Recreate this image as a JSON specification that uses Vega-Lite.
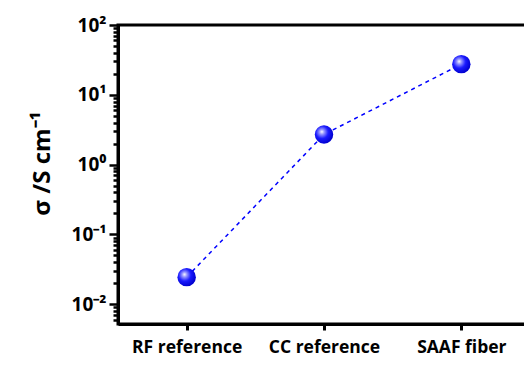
{
  "$schema": "https://vega.github.io/schema/vega-lite/v6.json",
  "width": 412,
  "height": 299,
  "autosize": {"type": "none"},
  "padding": {"left": 118, "top": 25, "right": 0, "bottom": 43},
  "background": "white",
  "config": {
    "view": {"stroke": "black", "strokeWidth": 3},
    "font": "Open Sans"
  },
  "data": {
    "values": [
      {"sample": "RF reference", "sigma": 0.0244},
      {"sample": "CC reference", "sigma": 2.7},
      {"sample": "SAAF fiber", "sigma": 27.5}
    ]
  },
  "encoding": {
    "x": {
      "field": "sample",
      "type": "ordinal",
      "sort": null,
      "scale": {"type": "point", "padding": 0.5},
      "axis": {
        "title": null,
        "labelAngle": 0,
        "labelFont": "Open Sans",
        "labelFontWeight": "bold",
        "labelFontSize": 17.5,
        "labelColor": "black",
        "labelPadding": 8,
        "tickColor": "black",
        "tickWidth": 3,
        "tickSize": 6,
        "domainColor": "black",
        "domainWidth": 3,
        "grid": false
      }
    },
    "y": {
      "field": "sigma",
      "type": "quantitative",
      "scale": {"type": "log", "domain": [0.0052, 100], "nice": false},
      "axis": {
        "title": "σ /S cm⁻¹",
        "titleFont": "Open Sans",
        "titleFontWeight": "bold",
        "titleFontSize": 24,
        "titleColor": "black",
        "titlePadding": 17,
        "titleY": 138,
        "values": [0.006, 0.007, 0.008, 0.009, 0.01, 0.02, 0.03, 0.04, 0.05, 0.06, 0.07, 0.08, 0.09, 0.1, 0.2, 0.3, 0.4, 0.5, 0.6, 0.7, 0.8, 0.9, 1, 2, 3, 4, 5, 6, 7, 8, 9, 10, 20, 30, 40, 50, 60, 70, 80, 90, 100],
        "labelExpr": "abs(log(datum.value)/LN10 - round(log(datum.value)/LN10)) < 0.000001 ? (round(log(datum.value)/LN10) == 2 ? '10²' : round(log(datum.value)/LN10) == 1 ? '10¹' : round(log(datum.value)/LN10) == 0 ? '10⁰' : round(log(datum.value)/LN10) == -1 ? '10⁻¹' : '10⁻²') : ''",
        "labelFont": "Open Sans",
        "labelFontWeight": "bold",
        "labelFontSize": 19,
        "labelColor": "black",
        "labelPadding": 3,
        "labelOverlap": false,
        "labelBound": false,
        "labelFlush": false,
        "tickColor": "black",
        "tickWidth": 2.5,
        "tickSize": {"condition": {"test": "abs(log(datum.value)/LN10 - round(log(datum.value)/LN10)) < 0.000001", "value": 9}, "value": 5},
        "domainColor": "black",
        "domainWidth": 3,
        "grid": false
      }
    }
  },
  "layer": [
    {
      "mark": {"type": "line", "color": "#0000ff", "strokeWidth": 1.5, "strokeDash": [4, 4]}
    },
    {
      "mark": {
        "type": "point",
        "shape": "circle",
        "filled": true,
        "size": 340,
        "opacity": 1,
        "fill": {
          "gradient": "radial",
          "x1": 0.38, "y1": 0.35, "r1": 0,
          "x2": 0.4, "y2": 0.4, "r2": 0.62,
          "stops": [
            {"offset": 0, "color": "#ffffff"},
            {"offset": 0.2, "color": "#9a9aff"},
            {"offset": 0.55, "color": "#1a1aff"},
            {"offset": 1, "color": "#0000cc"}
          ]
        }
      }
    }
  ]
}
